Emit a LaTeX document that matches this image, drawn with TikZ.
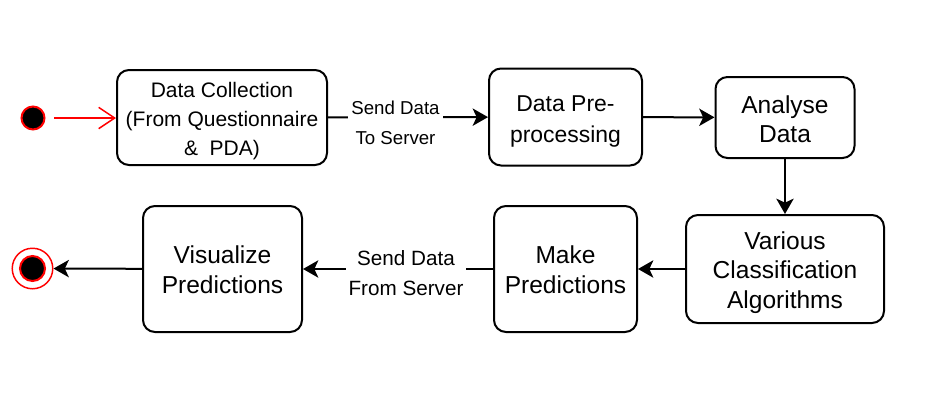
\documentclass[tikz,border=0pt]{standalone}
\usepackage{fontspec}
\setmainfont{Liberation Sans}
\usetikzlibrary{arrows.meta}
\newcommand{\btxt}[4]{\raisebox{#1}[0pt][0pt]{\fontsize{#2}{#3}\selectfont\begin{tabular}[t]{@{}c@{}}#4\end{tabular}}}
\begin{document}
\begin{tikzpicture}[x=0.75pt,y=-0.75pt,
  box/.style={draw, line width=1.5pt, rounded corners=9pt, inner sep=0pt},
  conn/.style={line width=1.5pt, -{Stealth[length=11.5pt,width=13pt,inset=3pt]}},
  lbl/.style={fill=white, align=center, inner xsep=2.25pt, inner ysep=1pt}]
\useasboundingbox (0,0) rectangle (940,411);

% start and end
\node[circle, fill=black, draw=red, line width=1.5pt, minimum size=17.25pt, inner sep=0pt] (start) at (33,118) {};
\node[circle, draw=red, line width=1.1pt, minimum size=30.4pt, inner sep=0pt] (endo) at (32.5,268.5) {};
\node[circle, fill=black, draw=red, line width=1.5pt, minimum size=18.75pt, inner sep=0pt] (endi) at (32.5,268.5) {};

% boxes
\node[box, minimum width=157.5pt, minimum height=71.25pt] (b1) at (222,117.5)
  {\btxt{15.1pt}{15.75pt}{21.9pt}{Data Collection\\(From Questionnaire\\\&~~PDA)}};
\node[box, minimum width=114.75pt, minimum height=72.75pt] (b2) at (565.5,117)
  {\btxt{3.9pt}{17.2pt}{22.9pt}{Data Pre-\\processing}};
\node[box, minimum width=104.25pt, minimum height=60.75pt] (b3) at (785,117.5)
  {\btxt{3.2pt}{18.4pt}{22pt}{Analyse\\Data}};
\node[box, minimum width=148.5pt, minimum height=81pt] (b4) at (785,269)
  {\btxt{14.8pt}{18.4pt}{22.1pt}{Various\\Classification\\Algorithms}};
\node[box, minimum width=107.25pt, minimum height=94.5pt] (b5) at (565.5,269)
  {\btxt{4.3pt}{18.4pt}{22.6pt}{Make\\Predictions}};
\node[box, minimum width=119.25pt, minimum height=94.5pt] (b6) at (222.5,269)
  {\btxt{4.3pt}{18.4pt}{22.8pt}{Visualize\\Predictions}};

% connectors
\draw[red, line width=1.1pt, shorten <=6.5pt, -{Straight Barb[length=12pt,width=16pt]}] (start) -- (start -| b1.west);
\draw[conn] (b1) -- (b2);
\draw[conn] (b2) -- (b3);
\draw[conn] (b3) -- (b4);
\draw[conn] (b4) -- (b5);
\draw[conn] (b5) -- (b6);
\draw[conn] (b6) -- (endo);

% labels
\node[lbl, font=\fontsize{14pt}{22.5pt}\selectfont] (l1) at (395.5,123) {Send Data\\To Server};
\node[lbl, font=\fontsize{15.5pt}{22.5pt}\selectfont] (l2) at (406,273) {Send Data\\From Server};
\end{tikzpicture}
\end{document}
